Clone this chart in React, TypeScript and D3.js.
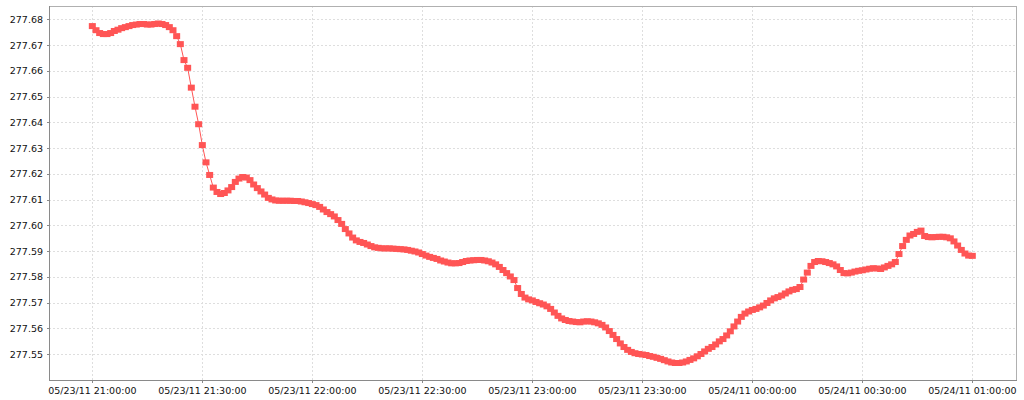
import React from "react";
import * as d3 from "d3";

// one reading per minute, starting 05/23/11 21:00:00
const START = Date.UTC(2011, 4, 23, 21, 0, 0);
const STEP_MS = 60 * 1000;

const VALUES = [
  277.6774, 277.6758, 277.6747, 277.6743, 277.6743, 277.6747, 277.6755, 277.676, 277.6766, 277.677,
  277.6774, 277.6778, 277.678, 277.6782, 277.6782, 277.678, 277.678, 277.6782, 277.6784, 277.6782,
  277.6778, 277.677, 277.6758, 277.6735, 277.6704, 277.6642, 277.6612, 277.6535, 277.6461, 277.6393,
  277.6312, 277.6245, 277.6196, 277.6147, 277.613, 277.6122, 277.6126, 277.6136, 277.6149, 277.6169,
  277.6182, 277.6188, 277.6186, 277.6176, 277.6159, 277.6145, 277.6132, 277.612, 277.6107, 277.6101,
  277.6097, 277.6096, 277.6096, 277.6096, 277.6096, 277.6095, 277.6095, 277.6093, 277.609, 277.6087,
  277.6083, 277.6079, 277.6072, 277.6062, 277.6052, 277.6044, 277.6035, 277.6021, 277.6006, 277.5986,
  277.5969, 277.5953, 277.5942, 277.5936, 277.5932, 277.5926, 277.592, 277.5915, 277.5913, 277.5911,
  277.5911, 277.5911, 277.591, 277.5909, 277.5908, 277.5907, 277.5905, 277.5902, 277.5899, 277.5895,
  277.5889, 277.5883, 277.5878, 277.5874, 277.587, 277.5864, 277.586, 277.5856, 277.5853, 277.5853,
  277.5854, 277.5858, 277.5862, 277.5864, 277.5865, 277.5866, 277.5866, 277.5864, 277.5861, 277.5856,
  277.5849, 277.5839, 277.5827, 277.5815, 277.5802, 277.5788, 277.5757, 277.5734, 277.572, 277.5713,
  277.5709, 277.5703, 277.5698, 277.5693, 277.5686, 277.5676, 277.5662, 277.5649, 277.5639, 277.5633,
  277.5629, 277.5627, 277.5625, 277.5624, 277.5627, 277.5628, 277.5627, 277.5624, 277.562, 277.5614,
  277.5604, 277.559, 277.5575, 277.5559, 277.5542, 277.5528, 277.5517, 277.5509, 277.5504, 277.5501,
  277.5499, 277.5497, 277.5493, 277.549, 277.5486, 277.5482, 277.5477, 277.5472, 277.5468, 277.5466,
  277.5466, 277.5468, 277.5472, 277.5478, 277.5484, 277.5492, 277.5501, 277.5511, 277.5521, 277.5528,
  277.5538, 277.555, 277.5559, 277.5573, 277.5589, 277.5608, 277.5627, 277.5645, 277.5658, 277.5666,
  277.5672, 277.5676, 277.5682, 277.5689, 277.5699, 277.5709, 277.5717, 277.5722, 277.5728, 277.5736,
  277.5744, 277.575, 277.5753, 277.5761, 277.579, 277.5817, 277.5843, 277.5858, 277.5862, 277.5861,
  277.5858, 277.5854, 277.5849, 277.5841, 277.5827, 277.5815, 277.5814, 277.5817, 277.5821, 277.5824,
  277.5826, 277.5829, 277.5832, 277.5834, 277.5833, 277.5831, 277.5837, 277.5843, 277.5849, 277.5858,
  277.5889, 277.592, 277.5944, 277.5961, 277.5967, 277.5975, 277.598, 277.5959, 277.5955, 277.5954,
  277.5955, 277.5956, 277.5956, 277.5954, 277.595, 277.5938, 277.5922, 277.5905, 277.5891, 277.5883,
  277.5882,
];

const Y_TICKS = [277.55, 277.56, 277.57, 277.58, 277.59, 277.6, 277.61, 277.62, 277.63, 277.64, 277.65, 277.66, 277.67, 277.68];
const X_TICKS = [
  Date.UTC(2011, 4, 23, 21, 0), Date.UTC(2011, 4, 23, 21, 30),
  Date.UTC(2011, 4, 23, 22, 0), Date.UTC(2011, 4, 23, 22, 30),
  Date.UTC(2011, 4, 23, 23, 0), Date.UTC(2011, 4, 23, 23, 30),
  Date.UTC(2011, 4, 24, 0, 0), Date.UTC(2011, 4, 24, 0, 30),
  Date.UTC(2011, 4, 24, 1, 0),
];

const W = 1024;
const H = 400;
const plot = { left: 49, right: 1016, top: 6, bottom: 380 };
const RED = "#ff5555";
const FONT = "'DejaVu Sans', sans-serif";
const GRID = "#dedede";

export default function App() {
  const x = d3.scaleUtc()
    .domain([Date.UTC(2011, 4, 23, 20, 48, 11), Date.UTC(2011, 4, 24, 1, 11, 55)])
    .range([plot.left, plot.right]);
  const y = d3.scaleLinear().domain([277.54, 277.6852]).range([plot.bottom, plot.top]);
  const fmtX = d3.utcFormat("%m/%d/%y %H:%M:%S");
  const fmtY = d3.format(".2f");

  const pts = VALUES.map((v, i) => ({ t: START + i * STEP_MS, v }));
  const line = d3.line<{ t: number; v: number }>().x(d => x(d.t)).y(d => y(d.v));

  return (
    <svg width={W} height={H} style={{ position: "absolute", left: 0, top: 0, display: "block", background: "#fff" }}>
      <rect x={0} y={0} width={W} height={H} fill="#fff" />
      {/* grid */}
      {X_TICKS.map(t => (
        <line key={"gx" + t} x1={Math.round(x(t)) + 0.5} x2={Math.round(x(t)) + 0.5} y1={plot.top} y2={plot.bottom}
          stroke={GRID} strokeDasharray="2,2" />
      ))}
      {Y_TICKS.map(v => (
        <line key={"gy" + v} x1={plot.left} x2={plot.right} y1={Math.round(y(v)) + 0.5} y2={Math.round(y(v)) + 0.5}
          stroke={GRID} strokeDasharray="2,2" />
      ))}
      {/* outline */}
      <rect x={plot.left + 0.5} y={plot.top + 0.5} width={plot.right - plot.left} height={plot.bottom - plot.top}
        fill="none" stroke="#b0b0b0" />
      <line x1={plot.left + 0.5} x2={plot.left + 0.5} y1={plot.top} y2={plot.bottom + 1} stroke="#8a8a8a" />
      <line x1={plot.left} x2={plot.right + 1} y1={plot.bottom + 0.5} y2={plot.bottom + 0.5} stroke="#8a8a8a" />
      {/* y axis */}
      {Y_TICKS.map(v => (
        <g key={"ty" + v}>
          <line x1={plot.left - 2} x2={plot.left} y1={Math.round(y(v)) + 0.5} y2={Math.round(y(v)) + 0.5} stroke="#8a8a8a" />
          <text x={43} y={y(v) + 3.5} textAnchor="end" fontFamily={FONT} fontSize={9.5} fill="#111">
            {fmtY(v)}
          </text>
        </g>
      ))}
      {/* x axis */}
      {X_TICKS.map(t => (
        <g key={"tx" + t}>
          <line x1={Math.round(x(t)) + 0.5} x2={Math.round(x(t)) + 0.5} y1={plot.bottom} y2={plot.bottom + 3} stroke="#8a8a8a" />
          <text x={x(t)} y={393.5} textAnchor="middle" fontFamily={FONT} fontSize={9.5} fill="#111">
            {fmtX(new Date(t))}
          </text>
        </g>
      ))}
      {/* series */}
      <path d={line(pts) || ""} fill="none" stroke={RED} strokeWidth={1} />
      {pts.map(p => (
        <rect key={p.t} x={x(p.t) - 3.5} y={y(p.v) - 3} width={7} height={6} fill={RED} />
      ))}
    </svg>
  );
}
